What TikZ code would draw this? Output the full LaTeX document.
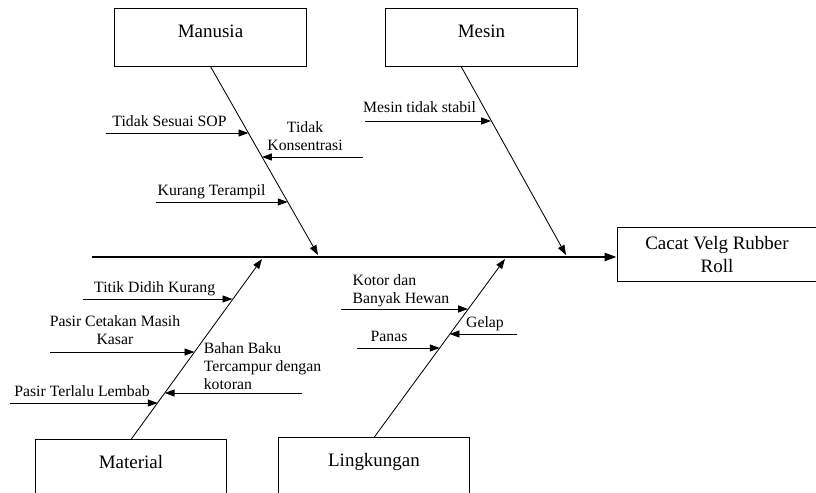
\documentclass[tikz,border=0pt]{standalone}
\usepackage{fontspec}
\setmainfont{Liberation Serif}
\usetikzlibrary{arrows.meta,calc}
\usepackage{tkz-euclide}
\newcommand{\catfont}{\rmfamily\fontsize{13.5}{17}\selectfont}
\newcommand{\causefont}{\rmfamily\fontsize{11.2}{12.8}\selectfont}

\tikzset{
  catbox/.style={draw,line width=.6pt,minimum width=4.78cm,minimum height=1.43cm,
    text height=.3cm,text depth=.3cm,inner sep=0pt,font=\catfont},
  effbox/.style={draw,line width=.6pt,minimum width=5cm,minimum height=1.33cm,
    align=center,inner sep=0pt,font=\catfont},
  spine/.style={line width=1.6pt,-{Triangle[length=8.5pt,width=5.7pt]}},
  bone/.style={line width=.6pt,-{Triangle[length=7pt,width=5pt]}},
  cause/.style={line width=.6pt,-{Triangle[length=7pt,width=5pt]}},
  lbl/.style={font=\causefont,inner sep=0pt,anchor=base,yshift=4.8pt},
  mlbl/.style={font=\causefont,inner sep=0pt,anchor=south}
}

\begin{document}
\begin{tikzpicture}
\useasboundingbox (0,0) rectangle (20.4,12.325);

\node[catbox] (manusia) at (5.2625,11.3875) {Manusia};
\node[catbox] (mesin) at (12.0375,11.3875) {Mesin};
\node[catbox] (material) at (3.275,.6125) {Material};
\node[catbox] (lingkungan) at (9.35,.6625) {Lingkungan};
\node[effbox] (effect) at (17.925,5.9625) {Cacat Velg Rubber\\Roll};

\tkzDefPoints{2.3/5.9/O,7.95/5.95/B1,14.15/5.95/B2,6.55/5.85/B3,12.625/5.85/B4}
\coordinate (F) at ($(mesin.south)+(-.51,0)$);

\tkzDefPoints{2.65/9/P1,6.21/9/Q1,9.075/8.4/P2,6.55/8.4/Q2,3.9/7.275/P3,7.19/7.275/Q3}
\tkzDefPoints{9.125/9.3/P4,12.275/9.3/Q4}
\tkzDefPoints{2.075/4.85/P5,5.81/4.85/Q5,1.25/3.525/P6,4.86/3.525/Q6,
  7.55/2.5/P7,4.12/2.5/Q7,.25/2.25/P8,3.94/2.25/Q8}
\tkzDefPoints{8.525/4.6/P9,11.7/4.6/Q9,12.925/3.975/P10,11.24/3.975/Q10,
  8.925/3.625/P11,10.99/3.625/Q11}

\draw[spine] (O) -- (O -| effect.west);

\draw[bone] (manusia.south) -- (B1);
\draw[bone] (F) -- (B2);
\draw[bone] (material.north) -- (B3);
\draw[bone] (lingkungan.north) -- (B4);

\draw[cause] (P1) -- (Q1) node[lbl,pos=.446] {Tidak Sesuai SOP};
\draw[cause] (P2) -- (Q2) node[mlbl,align=center,pos=.574,yshift=4.25pt] {Tidak\\Konsentrasi};
\draw[cause] (P3) -- (Q3) node[lbl,pos=.422] {Kurang Terampil};
\draw[cause] (P4) -- (Q4) node[lbl,pos=.433,yshift=1.5pt] {Mesin tidak stabil};

\draw[cause] (P5) -- (Q5) node[lbl,pos=.48] {Titik Didih Kurang};
\draw[cause] (P6) -- (Q6) node[mlbl,align=center,pos=.45,yshift=4.7pt] {Pasir Cetakan Masih\\Kasar};
\draw[cause] (P7) -- (Q7) node[mlbl,align=left,anchor=south west,pos=.719,yshift=2.1pt] {Bahan Baku\\Tercampur dengan\\kotoran};
\draw[cause] (P8) -- (Q8) node[lbl,pos=.488] {Pasir Terlalu Lembab};

\draw[cause] (P9) -- (Q9) node[mlbl,align=left,anchor=south west,pos=.089,yshift=1.5pt] {Kotor dan\\Banyak Hewan};
\draw[cause] (P10) -- (Q10) node[lbl,pos=.475] {Gelap};
\draw[cause] (P11) -- (Q11) node[lbl,pos=.388] {Panas};

\end{tikzpicture}
\end{document}
